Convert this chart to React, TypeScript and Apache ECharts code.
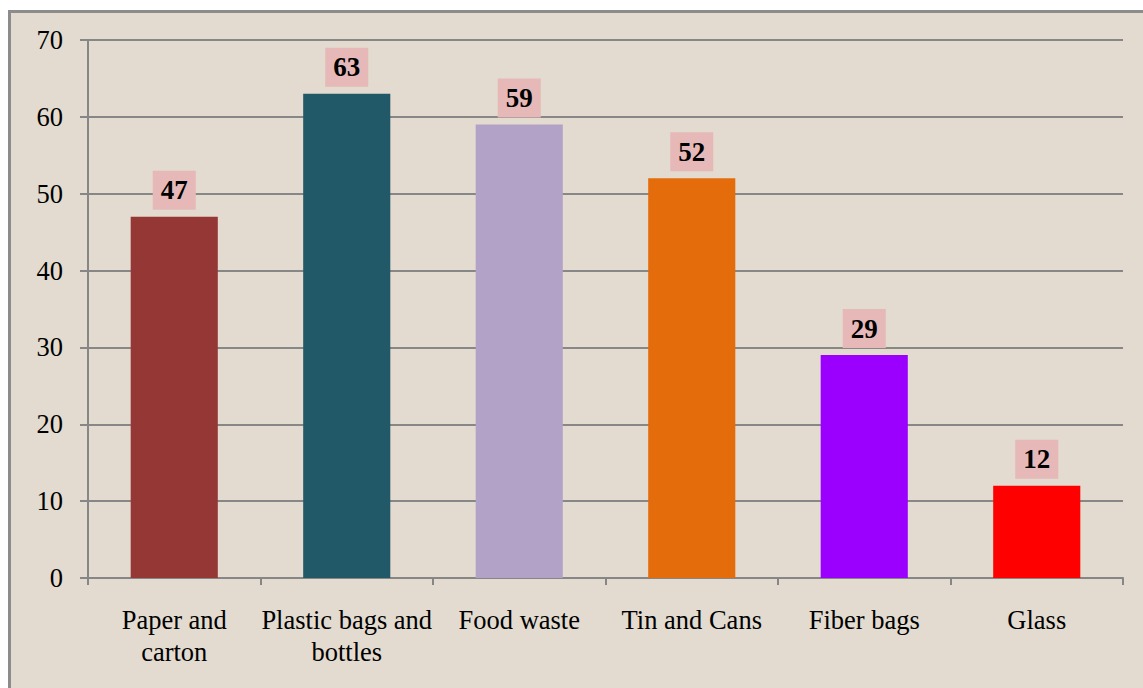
import React, { useEffect, useRef } from "react";
import * as echarts from "echarts";

const categories = [
  "Paper and\ncarton",
  "Plastic bags and\nbottles",
  "Food waste",
  "Tin and Cans",
  "Fiber bags",
  "Glass",
];
const values = [47, 63, 59, 52, 29, 12];
const barColors = ["#953735", "#215968", "#b3a2c7", "#e46c0a", "#9b00ff", "#ff0000"];
const yTicks = [0, 10, 20, 30, 40, 50, 60, 70];

const FONT = "Liberation Serif";

export default function App() {
  const ref = useRef<HTMLDivElement>(null);
  useEffect(() => {
    if (!ref.current) return;
    const chart = echarts.init(ref.current, null, { renderer: "svg" });
    chart.setOption({
      animation: false,
      backgroundColor: "#ffffff",
      graphic: [
        {
          type: "rect",
          z: -10,
          silent: true,
          shape: { x: 9.5, y: 11.5, width: 1160, height: 700 },
          style: { fill: "#e3dbcf", stroke: "#8c8c8c", lineWidth: 3 },
        },
      ],
      grid: { left: 88, right: 20, top: 40, bottom: 110, containLabel: false },
      xAxis: {
        type: "category",
        data: categories,
        axisLine: { show: true, lineStyle: { color: "#868686", width: 2 } },
        axisTick: { show: true, alignWithLabel: false, length: 7, lineStyle: { color: "#868686", width: 2 } },
        axisLabel: {
          color: "#000",
          fontFamily: FONT,
          fontSize: 26.5,
          lineHeight: 32,
          margin: 26,
          interval: 0,
        },
      },
      yAxis: {
        type: "value",
        min: yTicks[0],
        max: yTicks[yTicks.length - 1],
        interval: 10,
        axisLine: { show: true, lineStyle: { color: "#868686", width: 2 } },
        axisTick: { show: true, length: 8, lineStyle: { color: "#868686", width: 2 } },
        axisLabel: { color: "#000", fontFamily: FONT, fontSize: 26.5, margin: 25 },
        splitLine: { show: true, lineStyle: { color: "#878787", width: 2 } },
      },
      series: [
        {
          type: "bar",
          barWidth: "50.5%",
          data: values.map((v, i) => ({ value: v, itemStyle: { color: barColors[i] } })),
          label: {
            show: true,
            position: "top",
            distance: 7,
            color: "#000",
            fontFamily: FONT,
            fontWeight: "bold",
            fontSize: 27,
            backgroundColor: "#e6b9b8",
            padding: [6, 8, 6, 8],
          },
        },
      ],
    });
    return () => chart.dispose();
  }, []);
  return (
    <div
      ref={ref}
      style={{ position: "fixed", left: 0, top: 0, width: 1143, height: 688 }}
    />
  );
}
